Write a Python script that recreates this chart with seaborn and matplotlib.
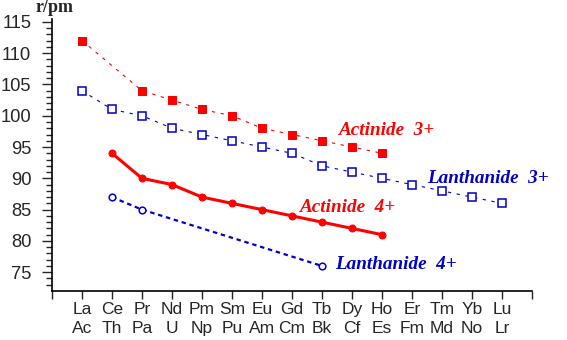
import matplotlib
matplotlib.use("Agg")
import matplotlib.pyplot as plt
import seaborn as sns
import pandas as pd
import numpy as np

lanthanides = ["La", "Ce", "Pr", "Nd", "Pm", "Sm", "Eu", "Gd", "Tb", "Dy", "Ho", "Er", "Tm", "Yb", "Lu"]
actinides = ["Ac", "Th", "Pa", "U", "Np", "Pu", "Am", "Cm", "Bk", "Cf", "Es", "Fm", "Md", "No", "Lr"]

actinide_3 = [112, None, 104, 102.5, 101, 100, 98, 97, 96, 95, 94, None, None, None, None]
lanthanide_3 = [104, 101, 100, 98, 97, 96, 95, 94, 92, 91, 90, 89, 88, 87, 86]
actinide_4 = [None, 94, 90, 89, 87, 86, 85, 84, 83, 82, 81, None, None, None, None]
lanthanide_4 = [None, 87, 85, None, None, None, None, None, 76, None, None, None, None, None, None]

RED = "#FF0000"
BLUE = "#0000C8"

sns.set_style("white")
plt.rcParams['font.family'] = ['Liberation Sans', 'DejaVu Sans']

fig = plt.figure(figsize=(5.67, 3.40), dpi=100)
ax = fig.add_axes([52/567, 1-291/340, (532-52)/567, (291-18.7)/340])

def series(vals):
    df = pd.DataFrame({"x": np.arange(len(vals)), "y": [np.nan if v is None else v for v in vals]})
    return df.dropna()

sns.lineplot(data=series(actinide_3), x="x", y="y", ax=ax, color=RED, lw=0.8,
             linestyle=(0, (3, 5)), marker="s", markersize=5.5, markeredgecolor=RED,
             markerfacecolor=RED)
sns.lineplot(data=series(lanthanide_3), x="x", y="y", ax=ax, color=BLUE, lw=0.8,
             linestyle=(0, (3, 5)), marker="s", markersize=5.2, markeredgecolor=BLUE,
             markerfacecolor="white", markeredgewidth=1.1)
sns.lineplot(data=series(actinide_4), x="x", y="y", ax=ax, color=RED, lw=2.2,
             linestyle="-", marker="o", markersize=5, markeredgecolor=RED,
             markerfacecolor=RED)
sns.lineplot(data=series(lanthanide_4), x="x", y="y", ax=ax, color=BLUE, lw=1.6,
             linestyle=(0, (2.0, 1.7)), marker="o", markersize=4.8, markeredgecolor=BLUE,
             markerfacecolor="white", markeredgewidth=1.1)

ax.set_xlim(-1, 15)
ax.set_ylim(72, 115.5)
ax.set_xlabel("")
ax.set_ylabel("")

ax.set_xticks(np.arange(-1, 16))
ax.set_xticklabels([""] + [f"{l}\n{a}" for l, a in zip(lanthanides, actinides)] + [""],
                   fontsize=12.5, linespacing=1.3)
ax.set_yticks(np.arange(75, 116, 5))
ax.set_yticks(np.arange(73, 116, 1), minor=True)
ax.tick_params(axis="y", which="major", length=7, width=1, direction="out", pad=8,
               labelsize=13.2, left=True)
ax.tick_params(axis="y", which="minor", length=4, width=1, direction="out", left=True)
ax.tick_params(axis="x", which="major", length=6, width=1, direction="out", pad=2,
               bottom=True)

for s in ["top", "right"]:
    ax.spines[s].set_visible(False)
for s in ["left", "bottom"]:
    ax.spines[s].set_color("black")
    ax.spines[s].set_linewidth(1.2)
ax.grid(False)

tfont = dict(family="Liberation Serif", style="italic", weight="bold", fontsize=13.8, va="center")
ax.text(8.57, 97.6, "Actinide  3+", color=RED, **tfont)
ax.text(11.5, 90.0, "Lanthanide  3+", color=BLUE, **tfont)
ax.text(7.27, 85.3, "Actinide  4+", color=RED, **tfont)
ax.text(8.43, 76.3, "Lanthanide  4+", color=BLUE, **tfont)

fig.text(36/567, 1-8/340, "r/pm", family="Liberation Serif", weight="bold", fontsize=13,
         va="center", ha="left")

fig.savefig("out.png", dpi=100)
